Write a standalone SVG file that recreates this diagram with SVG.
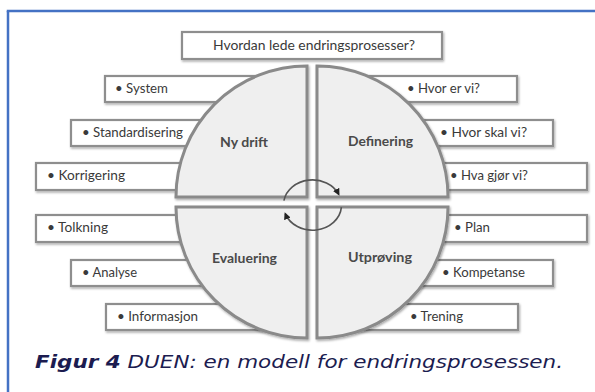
<svg xmlns="http://www.w3.org/2000/svg" width="595" height="392" viewBox="0 0 595 392">
<defs>
<style>
.box{fill:#ffffff;stroke:#8e8e8e;stroke-width:2.2;filter:url(#sh)}
.quad{fill:#efefef;stroke:#8a8a8a;stroke-width:3;filter:url(#sh)}
.lbl{font-family:Lato,"Open Sans","Liberation Sans",sans-serif;font-size:13.5px;fill:#3a3a3a}
.ql{font-family:Lato,"Open Sans","Liberation Sans",sans-serif;font-size:14px;font-weight:bold;fill:#4a4a4a}
.cap{font-family:"DejaVu Sans",Verdana,sans-serif;font-size:18.5px;font-style:italic;fill:#1c1c50}
.arr{fill:none;stroke:#555555;stroke-width:1.6}
</style>
<filter id="sh" x="-10%" y="-10%" width="130%" height="140%">
<feDropShadow dx="1" dy="1.5" stdDeviation="0.9" flood-color="#000000" flood-opacity="0.35"/>
</filter>
<marker id="ah" viewBox="0 0 10 10" refX="8" refY="5" markerWidth="7" markerHeight="7" markerUnits="userSpaceOnUse" orient="auto">
<path d="M0,0 L10,5 L0,10 Z" fill="#222222"/>
</marker>
</defs>
<rect x="0" y="0" width="595" height="392" fill="#ffffff"/>
<g id="frame">
<line x1="8" y1="11" x2="8" y2="392" stroke="#4472C4" stroke-width="2.5"/>
<line x1="6.75" y1="11" x2="595" y2="11" stroke="#4472C4" stroke-width="2.5"/>
</g>
<g id="q-title"><rect class="box" x="182" y="32" width="260" height="27"/><text class="lbl" x="213" y="50" textLength="202" lengthAdjust="spacingAndGlyphs">Hvordan lede endringsprosesser?</text></g>
<g id="b-system"><rect class="box" x="105" y="76" width="185" height="26"/><text class="lbl" x="115" y="93" textLength="53" lengthAdjust="spacingAndGlyphs">• System</text></g>
<g id="b-standardisering"><rect class="box" x="71" y="120" width="219" height="26"/><text class="lbl" x="82" y="137" textLength="101" lengthAdjust="spacingAndGlyphs">• Standardisering</text></g>
<g id="b-korrigering"><rect class="box" x="36" y="163" width="254" height="27"/><text class="lbl" x="47" y="180" textLength="78" lengthAdjust="spacingAndGlyphs">• Korrigering</text></g>
<g id="b-hvor-er"><rect class="box" x="334" y="76" width="183" height="26"/><text class="lbl" x="407" y="93" textLength="73" lengthAdjust="spacingAndGlyphs">• Hvor er vi?</text></g>
<g id="b-hvor-skal"><rect class="box" x="334" y="120" width="219" height="26"/><text class="lbl" x="440" y="137" textLength="87" lengthAdjust="spacingAndGlyphs">• Hvor skal vi?</text></g>
<g id="b-hva-gjor"><rect class="box" x="334" y="163" width="253" height="27"/><text class="lbl" x="450" y="180" textLength="78" lengthAdjust="spacingAndGlyphs">• Hva gjør vi?</text></g>
<g id="b-tolkning"><rect class="box" x="36" y="215" width="254" height="27"/><text class="lbl" x="47" y="232" textLength="61" lengthAdjust="spacingAndGlyphs">• Tolkning</text></g>
<g id="b-analyse"><rect class="box" x="71" y="260" width="219" height="26"/><text class="lbl" x="82" y="277" textLength="55" lengthAdjust="spacingAndGlyphs">• Analyse</text></g>
<g id="b-informasjon"><rect class="box" x="106" y="304" width="184" height="26"/><text class="lbl" x="117" y="321" textLength="81" lengthAdjust="spacingAndGlyphs">• Informasjon</text></g>
<g id="b-plan"><rect class="box" x="334" y="215" width="253" height="27"/><text class="lbl" x="454" y="232" textLength="36" lengthAdjust="spacingAndGlyphs">• Plan</text></g>
<g id="b-kompetanse"><rect class="box" x="334" y="260" width="219" height="26"/><text class="lbl" x="442" y="277" textLength="83" lengthAdjust="spacingAndGlyphs">• Kompetanse</text></g>
<g id="b-trening"><rect class="box" x="334" y="304" width="184" height="26"/><text class="lbl" x="410" y="321" textLength="53" lengthAdjust="spacingAndGlyphs">• Trening</text></g>
<g id="q-nydrift"><path class="quad" d="M307,197 L176,197 A131,131 0 0 1 307,66 Z"/><text class="ql" x="220" y="147" textLength="48" lengthAdjust="spacingAndGlyphs">Ny drift</text></g>
<g id="q-definering"><path class="quad" d="M317,197 L317,66 A131,131 0 0 1 448,197 Z"/><text class="ql" x="348" y="146" textLength="65" lengthAdjust="spacingAndGlyphs">Definering</text></g>
<g id="q-evaluering"><path class="quad" d="M307,207 L307,338 A131,131 0 0 1 176,207 Z"/><text class="ql" x="212" y="263" textLength="65" lengthAdjust="spacingAndGlyphs">Evaluering</text></g>
<g id="q-utproving"><path class="quad" d="M317,207 L448,207 A131,131 0 0 1 317,338 Z"/><text class="ql" x="348" y="262" textLength="64" lengthAdjust="spacingAndGlyphs">Utprøving</text></g>
<g id="connectors">
<path class="arr" d="M283.9,200.7 A29,25 0 0 1 338.8,194.4" marker-end="url(#ah)"/>
<path class="arr" d="M341.4,207.2 A29,25 0 0 1 285.2,213.6" marker-end="url(#ah)"/>
</g>
<g id="caption">
<text class="cap" x="35" y="368" textLength="528" lengthAdjust="spacingAndGlyphs"><tspan font-weight="bold">Figur 4</tspan> DUEN: en modell for endringsprosessen.</text>
</g>
</svg>
